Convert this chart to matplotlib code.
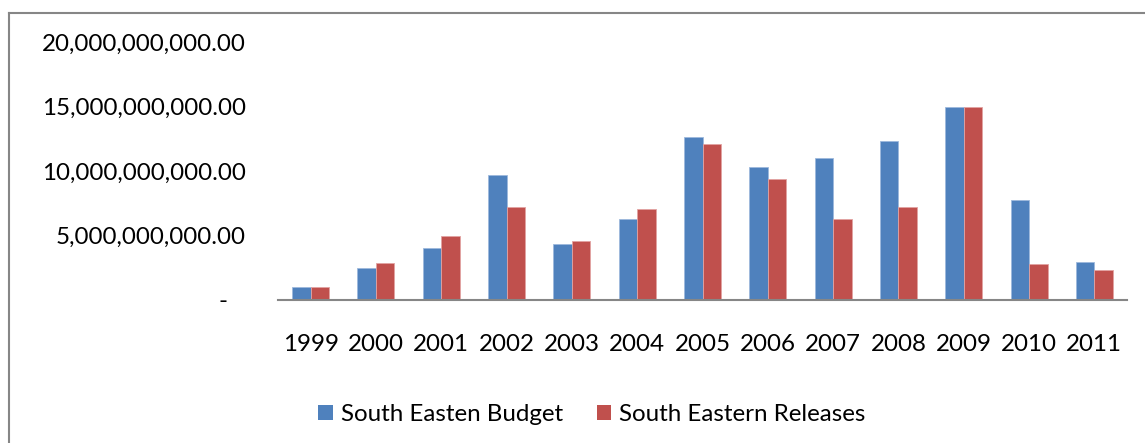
import matplotlib
matplotlib.use("Agg")
import matplotlib.pyplot as plt
import numpy as np
from matplotlib.lines import Line2D
from matplotlib.ticker import FuncFormatter

plt.rcParams['font.family'] = ['Lato', 'DejaVu Sans']

years = ['1999', '2000', '2001', '2002', '2003', '2004', '2005',
         '2006', '2007', '2008', '2009', '2010', '2011']
budget = [0.95e9, 2.43e9, 4.03e9, 9.66e9, 4.32e9, 6.28e9, 12.64e9,
          10.28e9, 10.98e9, 12.30e9, 15.0e9, 7.74e9, 2.89e9]
releases = [0.95e9, 2.81e9, 4.96e9, 7.17e9, 4.55e9, 7.06e9, 12.09e9,
            9.37e9, 6.26e9, 7.17e9, 15.0e9, 2.76e9, 2.29e9]
yticks = [0, 5e9, 10e9, 15e9, 20e9]

W, H = 1145, 443
fs = 17.4
fig = plt.figure(figsize=(W / 100, H / 100), dpi=100)
ax = fig.add_axes([278 / W, 1 - 299.5 / H, (1127 - 278) / W, (299.5 - 42.3) / H])

x = np.arange(len(years))
bw = 0.283
ax.bar(x - bw / 2, budget, bw, color='#4F81BD', edgecolor='#9DB9DC',
       linewidth=0.6, label='South Easten Budget')
ax.bar(x + bw / 2, releases, bw, color='#C0504D', edgecolor='#E2A3A2',
       linewidth=0.6, label='South Eastern Releases')

ax.set_xlim(-0.5, len(years) - 0.5)
ax.set_ylim(0, 20e9)
ax.set_xticks(x)
ax.set_xticklabels(years)
ax.set_yticks(yticks)
ax.yaxis.set_major_formatter(FuncFormatter(lambda v, p: '-   ' if v == 0 else f'{v:,.2f}'))

ax.tick_params(axis='both', length=0, labelsize=fs, colors='black')
ax.tick_params(axis='y', pad=23)
ax.tick_params(axis='x', pad=25)
for s in ['top', 'right', 'left']:
    ax.spines[s].set_visible(False)
ax.spines['bottom'].set_color('#868686')
ax.spines['bottom'].set_linewidth(1.5)

leg = ax.legend(loc='center left', bbox_to_anchor=(306 / W, 1 - 414.5 / H),
                bbox_transform=fig.transFigure, ncol=2, frameon=False,
                fontsize=fs, handlelength=0.6, handleheight=0.6,
                handletextpad=0.33, columnspacing=1.4, borderpad=0)
for h in leg.legend_handles:
    h.set_edgecolor('none')

# outer chart border (runs off the right and bottom edges)
fig.add_artist(Line2D([9 / W, 1.0], [1 - 13 / H, 1 - 13 / H], color='#868686', lw=1.5))
fig.add_artist(Line2D([9 / W, 9 / W], [0, 1 - 13 / H], color='#868686', lw=1.5))

fig.savefig('out.png', dpi=100)
